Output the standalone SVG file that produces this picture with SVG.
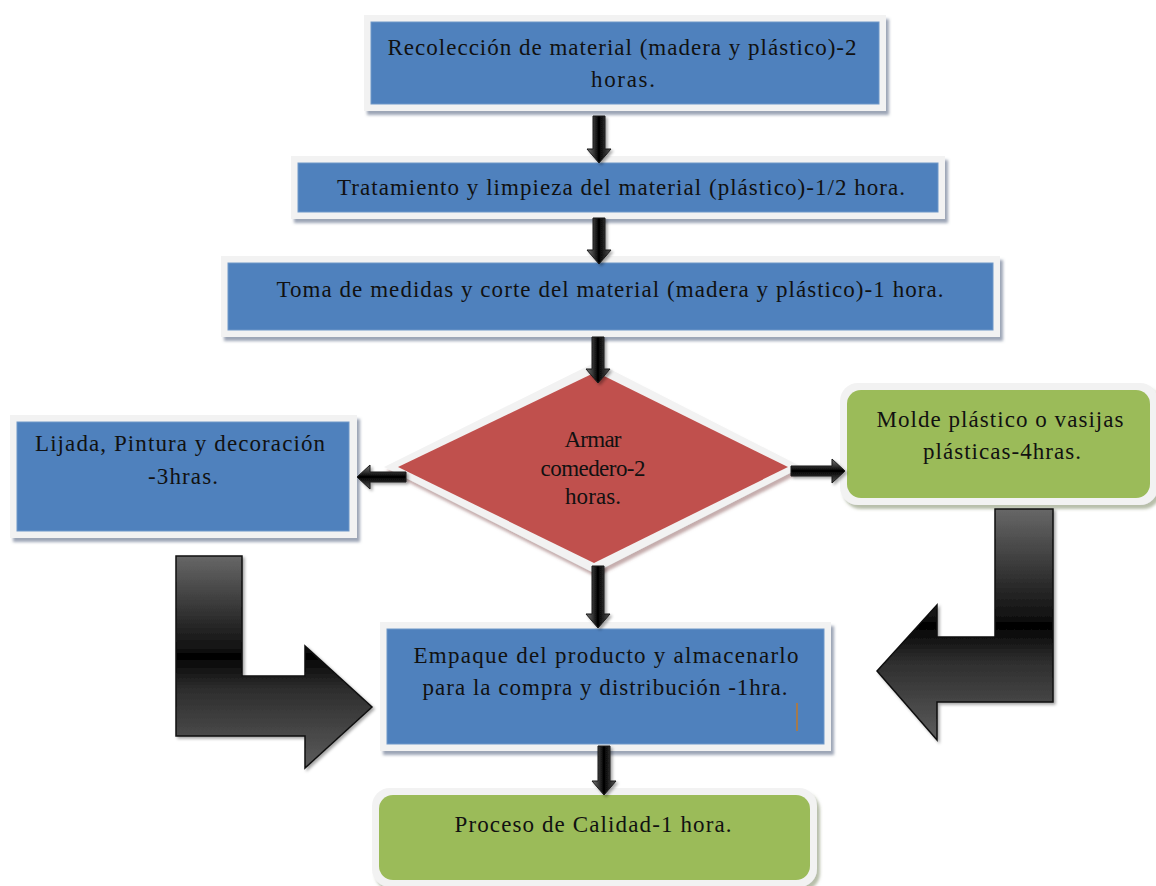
<svg xmlns="http://www.w3.org/2000/svg" width="1156" height="886" viewBox="0 0 1156 886">
<style>
.frame{fill:#f2f2f2;filter:url(#shB)}
.frameG{fill:#f2f2f2;filter:url(#shG)}
.blue{fill:#4f81bd;stroke:#6f97c8;stroke-width:1}
.green{fill:#9bbb59}
.red{fill:#c0504d}
.t{font-family:"Liberation Serif","Times New Roman",serif;font-size:23px;fill:#111;text-anchor:middle}
.av{fill:url(#gH);stroke:#1a1a1a;stroke-width:1;filter:url(#shA)}
.ah{fill:url(#gV);stroke:#1a1a1a;stroke-width:1;filter:url(#shA)}
.bigL{stroke:#111;stroke-width:1.5;filter:url(#shA)}
</style>
<defs>
<filter id="shB" x="-10%" y="-10%" width="120%" height="130%"><feDropShadow dx="3" dy="4" stdDeviation="1.5" flood-color="#5a6a85" flood-opacity="0.6"/></filter>
<filter id="shG" x="-10%" y="-10%" width="120%" height="130%"><feDropShadow dx="3" dy="4" stdDeviation="1.5" flood-color="#6f7f55" flood-opacity="0.5"/></filter>
<filter id="shR" x="-10%" y="-10%" width="120%" height="130%"><feDropShadow dx="2" dy="4" stdDeviation="1.5" flood-color="#8a5a5a" flood-opacity="0.5"/></filter>
<filter id="shA" x="-20%" y="-20%" width="150%" height="150%"><feDropShadow dx="2" dy="2" stdDeviation="1.5" flood-color="#000" flood-opacity="0.35"/></filter>
<linearGradient id="gH" x1="0" y1="0" x2="1" y2="0"><stop offset="0" stop-color="#7a7a7a"/><stop offset="0.5" stop-color="#000"/><stop offset="1" stop-color="#555"/></linearGradient>
<linearGradient id="gV" x1="0" y1="0" x2="0" y2="1"><stop offset="0" stop-color="#7a7a7a"/><stop offset="0.5" stop-color="#000"/><stop offset="1" stop-color="#555"/></linearGradient>
<linearGradient id="gL1" x1="0" y1="0" x2="0" y2="1"><stop offset="0" stop-color="#676767"/><stop offset="0.44" stop-color="#111"/><stop offset="0.47" stop-color="#000"/><stop offset="0.62" stop-color="#2c2c2c"/><stop offset="1" stop-color="#5c5c5c"/></linearGradient>
<linearGradient id="gL2" x1="0" y1="0" x2="0" y2="1"><stop offset="0" stop-color="#676767"/><stop offset="0.47" stop-color="#111"/><stop offset="0.5" stop-color="#000"/><stop offset="0.65" stop-color="#2c2c2c"/><stop offset="1" stop-color="#5c5c5c"/></linearGradient>
</defs>
<rect width="1156" height="886" fill="#fff"/>

<g id="n1">
<rect class="frame" x="364" y="15" width="522" height="96"/>
<rect class="blue" x="371" y="22" width="508" height="82"/>
<text class="t" x="622" y="55" textLength="469" lengthAdjust="spacing">Recolección de material (madera y plástico)-2</text>
<text class="t" x="623" y="87" textLength="64" lengthAdjust="spacing">horas.</text>
</g>

<g id="n2">
<rect class="frame" x="291" y="156" width="654" height="63"/>
<rect class="blue" x="298" y="163" width="640" height="49"/>
<text class="t" x="621" y="195" textLength="568" lengthAdjust="spacing">Tratamiento y limpieza del material (plástico)-1/2 hora.</text>
</g>

<g id="n3">
<rect class="frame" x="221" y="256" width="779" height="81"/>
<rect class="blue" x="228" y="263" width="765" height="67"/>
<text class="t" x="610" y="297" textLength="667" lengthAdjust="spacing">Toma de medidas y corte del material (madera y plástico)-1 hora.</text>
</g>

<g id="n4">
<polygon fill="#f2f2f2" style="filter:url(#shR)" points="596,362 802,467 594,573 384,467"/>
<polygon class="red" points="596,372 788,467 594,563 398,467"/>
<text class="t" x="593" y="447" textLength="57" lengthAdjust="spacing">Armar</text>
<text class="t" x="593" y="476" textLength="105" lengthAdjust="spacing">comedero-2</text>
<text class="t" x="593" y="504" textLength="56" lengthAdjust="spacing">horas.</text>
</g>

<g id="n5">
<rect class="frame" x="10" y="415" width="347" height="123"/>
<rect class="blue" x="17" y="422" width="332" height="109"/>
<text class="t" x="180" y="451" textLength="290" lengthAdjust="spacing">Lijada, Pintura y decoración</text>
<text class="t" x="183" y="484" textLength="70" lengthAdjust="spacing">-3hras.</text>
</g>

<g id="n6">
<rect class="frameG" x="840" y="383" width="318" height="122" rx="18"/>
<rect class="green" x="847" y="390" width="303" height="108" rx="14"/>
<text class="t" x="1000" y="427" textLength="247" lengthAdjust="spacing">Molde plástico o vasijas</text>
<text class="t" x="1002" y="459" textLength="158" lengthAdjust="spacing">plásticas-4hras.</text>
</g>

<g id="n7">
<rect class="frame" x="380" y="622" width="451" height="129"/>
<rect class="blue" x="387" y="629" width="437" height="115"/>
<text class="t" x="606" y="663" textLength="385" lengthAdjust="spacing">Empaque del producto y almacenarlo</text>
<text class="t" x="605" y="695" textLength="365" lengthAdjust="spacing">para la compra y distribución -1hra.</text>
<line x1="797" y1="703" x2="797" y2="731" stroke="#c0782a" stroke-width="1.5"/>
</g>

<g id="n8">
<rect class="frameG" x="372" y="788" width="445" height="99" rx="18"/>
<rect class="green" x="379" y="795" width="431" height="85" rx="14"/>
<text class="t" x="593" y="832" textLength="277" lengthAdjust="spacing">Proceso de Calidad-1 hora.</text>
</g>

<g id="connectors">
<path class="av" d="M593 116 H605 V149 H611 L599 163 L587 149 H593 Z"/>
<path class="av" d="M593 218 H605 V250 H611 L599 264 L587 250 H593 Z"/>
<path class="av" d="M592 337 H604 V369 H610 L598 383 L586 369 H592 Z"/>
<path class="av" d="M592 566 H604 V614 H610 L598 628 L586 614 H592 Z"/>
<path class="av" d="M598 746 H610 V781 H616 L604 795 L592 781 H598 Z"/>
<path class="ah" d="M406 472 V482 H370 V489 L357 477 L370 465 V472 Z"/>
<path class="ah" d="M791 466 V476 H832 V483 L845 471 L832 459 V466 Z"/>
<path class="bigL" fill="url(#gL1)" d="M176 556 H242 V676 H305 V646 L372 707 L305 768 V736 H176 Z"/>
<path class="bigL" fill="url(#gL2)" d="M995 509 H1053 V702 H937 V740 L877 671 L937 605 V637 H995 Z"/>
</g>
</svg>
